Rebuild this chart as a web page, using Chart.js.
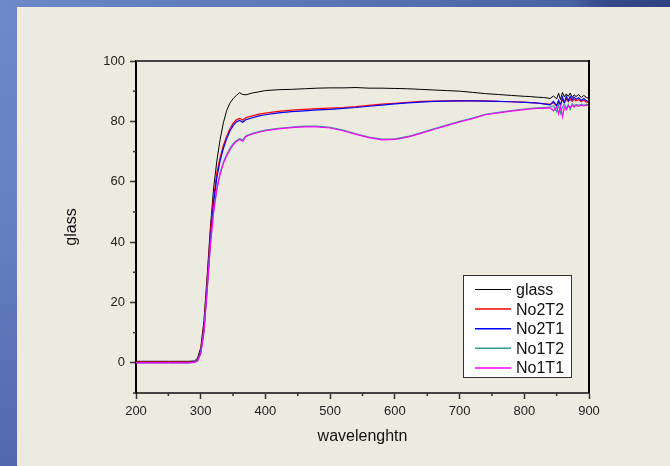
<!DOCTYPE html>
<html>
<head>
<meta charset="utf-8">
<script src="https://cdn.jsdelivr.net/npm/chart.js@4"></script>
<style>
    html, body { margin: 0; padding: 0; }
    body {
        width: 670px; height: 466px; position: relative; overflow: hidden;
        background: linear-gradient(to bottom, #6e89c8 0%, #6480c0 50%, #5068ae 100%);
    }
    #topStrip {
        position: absolute; left: 0; top: 0; width: 670px; height: 7px;
        background: linear-gradient(to right, #6d88c8 0%, #5c76b8 45%, #4a62a4 85%, #35498b 90%, #2f4383 100%);
    }
    #panel {
        position: absolute; left: 17px; top: 7px; width: 653px; height: 459px;
        background: #edeae0;
    }
    #chart { position: absolute; left: 0; top: 0; }
</style>
</head>
<body>
<div id="topStrip"></div>
<div id="panel"></div>
<canvas id="chart" width="670" height="466"></canvas>
<script>
// wavelength samples (nm)
const wavelength = [200, 250, 280, 290, 295, 300, 305, 310, 315, 320, 325, 330, 335, 340, 345, 350,
    355, 360, 365, 370, 380, 390, 400, 420, 440, 460, 480, 500, 520, 540, 560, 580, 600, 620, 640,
    660, 680, 700, 720, 740, 760, 780, 800, 810, 820, 830, 840, 845, 850, 853, 856, 859, 862, 865,
    868, 871, 874, 877, 880, 884, 888, 892, 896, 900];

const glass = [0.5, 0.5, 0.5, 0.6, 1.5, 5, 14, 29, 45, 58, 67, 74, 79.5, 83.5, 86, 87.5,
    88.6, 89.5, 88.9, 88.8, 89.4, 89.8, 90.2, 90.5, 90.6, 90.8, 91, 91.1, 91.1, 91.2, 91, 91, 90.9, 90.8, 90.6,
    90.4, 90.2, 90, 89.6, 89.2, 88.9, 88.6, 88.3, 88.2, 88, 87.9, 87.6, 88.4, 87.5, 89.3, 87.2, 89.6, 88.1, 89.1,
    88.3, 89.4, 87.9, 88.8, 88.2, 88.9, 87.9, 88.6, 87.9, 87.7];

const no2T2 = [0.2, 0.2, 0.2, 0.3, 1, 4, 12, 27, 43, 55, 63, 68, 72, 75, 77.5, 79.3,
    80.5, 81, 80.4, 81.3, 81.8, 82.4, 82.7, 83.3, 83.7, 84, 84.2, 84.4, 84.6, 84.9, 85.3, 85.7, 86, 86.3, 86.6,
    86.7, 86.8, 86.9, 86.8, 86.8, 86.6, 86.5, 86.4, 86.2, 86, 85.9, 85.6, 86.2, 85, 86.5, 85.5, 87.3, 86.2, 87.5,
    86.5, 87.4, 86.6, 87.3, 86.8, 87.2, 86.6, 87, 86.4, 86.3];

const no2T1 = [0.1, 0.1, 0.1, 0.2, 0.8, 3.5, 11, 25, 41, 53, 61.5, 67, 71, 74.2, 76.7, 78.6,
    79.8, 80.3, 79.7, 80.6, 81.2, 81.8, 82.2, 82.8, 83.2, 83.5, 83.8, 84, 84.3, 84.6, 85, 85.4, 85.8, 86.1, 86.4,
    86.6, 86.7, 86.8, 86.8, 86.7, 86.6, 86.5, 86.3, 86.2, 86.1, 85.8, 85.5, 86.6, 85.2, 87, 85.3, 88, 86, 88.3,
    86.9, 88.2, 87.1, 88, 87.3, 87.8, 86.9, 87.6, 86.8, 86.5];

const no1T2 = [0, 0, 0, 0.1, 0.7, 3.2, 10.5, 24.5, 39.5, 50.5, 58, 63, 66.5, 69, 71, 72.6,
    73.6, 74.3, 73.9, 75.2, 76, 76.6, 77.1, 77.7, 78.1, 78.4, 78.4, 78, 77.1, 75.9, 74.8, 74.1, 74.2, 75, 76.2,
    77.5, 78.8, 80, 81.1, 82.3, 83, 83.6, 84.1, 84.3, 84.5, 84.6, 84.7, 85.2, 83.2, 85.5, 82.6, 84.7, 85.8, 84.3,
    85.6, 83.9, 85.8, 85.2, 85.6, 85.3, 85.7, 85.3, 85.6, 85.4];

const no1T1 = [0, 0, 0, 0.1, 0.6, 3, 10, 24, 39, 50, 57.5, 62.5, 66, 68.5, 70.5, 72.2,
    73.3, 74, 73.4, 75, 75.8, 76.4, 76.9, 77.5, 77.9, 78.2, 78.2, 77.8, 76.9, 75.7, 74.6, 73.9, 74, 74.8, 76,
    77.3, 78.6, 79.8, 80.9, 82.2, 82.8, 83.4, 83.9, 84.1, 84.3, 84.3, 84.5, 83.5, 84.8, 82.5, 85, 81.5, 84.8, 83.9,
    85.2, 84.6, 85.3, 84.8, 85.3, 85, 85.4, 85.1, 85.4, 85.2];

const seriesNames = ['glass', 'No2T2', 'No2T1', 'No1T2', 'No1T1'];
const seriesValues = [glass, no2T2, no2T1, no1T2, no1T1];
const seriesColors = ['#000000', '#ff0000', '#0000ff', '#339999', '#ff00ff'];

const xTicks = [200, 300, 400, 500, 600, 700, 800, 900];
const xMinor = [250, 350, 450, 550, 650, 750, 850];
const yTicks = [0, 20, 40, 60, 80, 100];
const yMinor = [-10, 10, 30, 50, 70, 90];

const FONT = "'Liberation Sans', Arial, sans-serif";

// frame, minor ticks and the boxed legend inside the plot
const extrasPlugin = {
    id: 'extras',
    afterDraw(chart) {
        const ctx = chart.ctx;
        const area = chart.chartArea;
        const xs = chart.scales.x, ys = chart.scales.y;
        ctx.save();

        // top and right frame lines
        ctx.lineWidth = 2;
        ctx.strokeStyle = '#444';
        ctx.beginPath();
        ctx.moveTo(area.left, area.top);
        ctx.lineTo(area.right, area.top);
        ctx.stroke();
        ctx.strokeStyle = '#000';
        ctx.beginPath();
        ctx.moveTo(area.right, area.top - 1);
        ctx.lineTo(area.right, area.bottom);
        ctx.stroke();

        // minor ticks
        ctx.lineWidth = 1.5;
        ctx.strokeStyle = '#333';
        xMinor.forEach(v => {
            const px = xs.getPixelForValue(v);
            ctx.beginPath();
            ctx.moveTo(px, area.bottom);
            ctx.lineTo(px, area.bottom + 3);
            ctx.stroke();
        });
        yMinor.forEach(v => {
            const py = ys.getPixelForValue(v);
            ctx.beginPath();
            ctx.moveTo(area.left, py);
            ctx.lineTo(area.left - 3, py);
            ctx.stroke();
        });

        // legend box
        const bx = 463, by = 275, bw = 108, bh = 102;
        ctx.fillStyle = '#ffffff';
        ctx.fillRect(bx, by, bw, bh);
        ctx.lineWidth = 1;
        ctx.strokeStyle = '#333';
        ctx.strokeRect(bx + 0.5, by + 0.5, bw, bh);
        ctx.font = '16px ' + FONT;
        ctx.textBaseline = 'middle';
        ctx.textAlign = 'left';
        seriesNames.forEach((name, i) => {
            const ry = 289.5 + i * 19.6;
            ctx.strokeStyle = seriesColors[i];
            ctx.lineWidth = i === 0 ? 1 : 1.5;
            ctx.beginPath();
            ctx.moveTo(475, ry);
            ctx.lineTo(511, ry);
            ctx.stroke();
            ctx.fillStyle = '#111';
            ctx.fillText(name, 516, ry + 1);
        });
        ctx.restore();
    }
};

const datasets = seriesNames.map((name, i) => ({
    label: name,
    data: wavelength.map((w, j) => ({ x: w, y: seriesValues[i][j] })),
    borderColor: seriesColors[i],
    borderWidth: i === 0 ? 1 : 1.2,
    pointRadius: 0,
    fill: false,
    tension: 0,
    order: 5 - i
}));

new Chart(document.getElementById('chart'), {
    type: 'line',
    data: { datasets: datasets },
    plugins: [extrasPlugin],
    options: {
        responsive: false,
        animation: false,
        layout: { padding: { left: 58, right: 81, top: 61, bottom: 16 } },
        plugins: {
            legend: { display: false },
            tooltip: { enabled: false }
        },
        scales: {
            x: {
                type: 'linear',
                min: 200,
                max: 900,
                afterBuildTicks: s => { s.ticks = xTicks.map(v => ({ value: v })); },
                afterFit: s => { s.height = 57; },
                grid: { drawOnChartArea: false, tickLength: 6, tickColor: '#333', tickWidth: 1.5 },
                border: { color: '#444', width: 2 },
                ticks: { color: '#222', font: { family: FONT, size: 13 }, padding: 5, maxRotation: 0 },
                title: { display: true, text: 'wavelenghtn', color: '#111', font: { family: FONT, size: 16 } }
            },
            y: {
                type: 'linear',
                min: -10,
                max: 100,
                afterBuildTicks: s => { s.ticks = yTicks.map(v => ({ value: v })); },
                afterFit: s => { s.width = 78; },
                grid: { drawOnChartArea: false, tickLength: 6, tickColor: '#333', tickWidth: 1.5 },
                border: { color: '#000', width: 2 },
                ticks: { color: '#222', font: { family: FONT, size: 13 }, padding: 5 },
                title: { display: true, text: 'glass', color: '#111', font: { family: FONT, size: 16 } }
            }
        }
    }
});
</script>
</body>
</html>
